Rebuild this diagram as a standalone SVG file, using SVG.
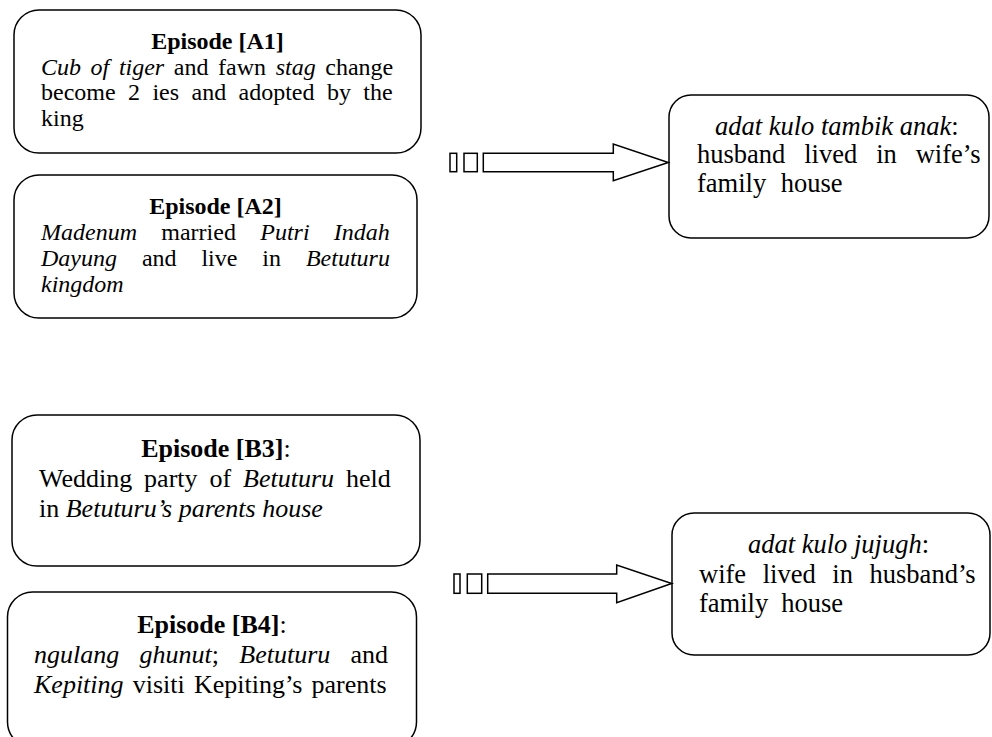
<svg xmlns="http://www.w3.org/2000/svg" width="992" height="737" viewBox="0 0 992 737">
<style>
.box{fill:#fff;stroke:#000;stroke-width:1.5}
.t{font-family:"Liberation Serif","Times New Roman",serif;fill:#000}
.s24{font-size:24px}
.s26{font-size:26px}
.s27{font-size:26.5px}
.i{font-style:italic}
.b{font-weight:bold}
.m{text-anchor:middle}
.arr{fill:#fff;stroke:#000;stroke-width:1.5;stroke-linejoin:miter}
</style>
<rect width="992" height="737" fill="#fff"/>
<g id="episode-A1">
<rect class="box" x="14" y="10" width="407" height="143" rx="25" ry="25"/>
<text class="t s24 b m" x="217.5" y="49">Episode [A1]</text>
<text class="t s24" x="41" y="74.5" word-spacing="3.6"><tspan class="i">Cub of tiger</tspan> and fawn <tspan class="i">stag</tspan> change</text>
<text class="t s24" x="41" y="100" word-spacing="6.4">become 2 ies and adopted by the</text>
<text class="t s24" x="41" y="125.5">king</text>
</g>
<g id="episode-A2">
<rect class="box" x="14" y="175" width="403" height="143" rx="25" ry="25"/>
<text class="t s24 b m" x="215.5" y="214">Episode [A2]</text>
<text class="t s24" x="41" y="240" word-spacing="18.3"><tspan class="i">Madenum</tspan> married <tspan class="i">Putri Indah</tspan></text>
<text class="t s24" x="41" y="266" word-spacing="18.9"><tspan class="i">Dayung</tspan> and live in <tspan class="i">Betuturu</tspan></text>
<text class="t s24 i" x="41" y="291.5">kingdom</text>
</g>
<g id="episode-B3">
<rect class="box" x="12" y="415" width="408" height="151" rx="25" ry="25"/>
<text class="t s26 m" x="216" y="457"><tspan class="b">Episode [B3]</tspan>:</text>
<text class="t s26" x="39" y="487" word-spacing="5.4">Wedding party of <tspan class="i">Betuturu</tspan> held</text>
<text class="t s26" x="39" y="517">in <tspan class="i">Betuturu’s parents house</tspan></text>
</g>
<g id="episode-B4">
<rect class="box" x="7.5" y="592" width="409" height="155" rx="25" ry="25"/>
<text class="t s26 m" x="212" y="633"><tspan class="b">Episode [B4]</tspan>:</text>
<text class="t s26" x="34" y="663" word-spacing="13.8"><tspan class="i">ngulang ghunut</tspan>; <tspan class="i">Betuturu</tspan> and</text>
<text class="t s26" x="34" y="693" word-spacing="2.7"><tspan class="i">Kepiting</tspan> visiti Kepiting’s parents</text>
</g>
<g id="adat-tambik-anak">
<rect class="box" x="669" y="95" width="320" height="143" rx="22" ry="22"/>
<text class="t s27 i" x="715" y="135">adat kulo tambik anak<tspan font-style="normal">:</tspan></text>
<text class="t s27" x="697" y="163" word-spacing="12.3">husband lived in wife’s</text>
<text class="t s27" x="697" y="192" word-spacing="8">family house</text>
</g>
<g id="adat-jujugh">
<rect class="box" x="672" y="513" width="318" height="142" rx="22" ry="22"/>
<text class="t s27 i" x="748" y="553">adat kulo jujugh<tspan font-style="normal">:</tspan></text>
<text class="t s27" x="699" y="583" word-spacing="10">wife lived in husband’s</text>
<text class="t s27" x="699" y="612" word-spacing="6.4">family house</text>
</g>
<g id="connectors">
<rect class="arr" x="450" y="153.3" width="6.7" height="18.4"/>
<rect class="arr" x="464" y="153.3" width="13.3" height="18.4"/>
<polygon class="arr" points="483.3,153.3 613.3,153.3 613.3,144 668.3,162.5 613.3,180.7 613.3,171.7 483.3,171.7"/>
<rect class="arr" x="454" y="574" width="6" height="19.3"/>
<rect class="arr" x="467.3" y="574" width="14.4" height="19.3"/>
<polygon class="arr" points="487.7,574 616.7,574 616.7,565 671.7,583.5 616.7,602.7 616.7,593.3 487.7,593.3"/>
</g>
</svg>
